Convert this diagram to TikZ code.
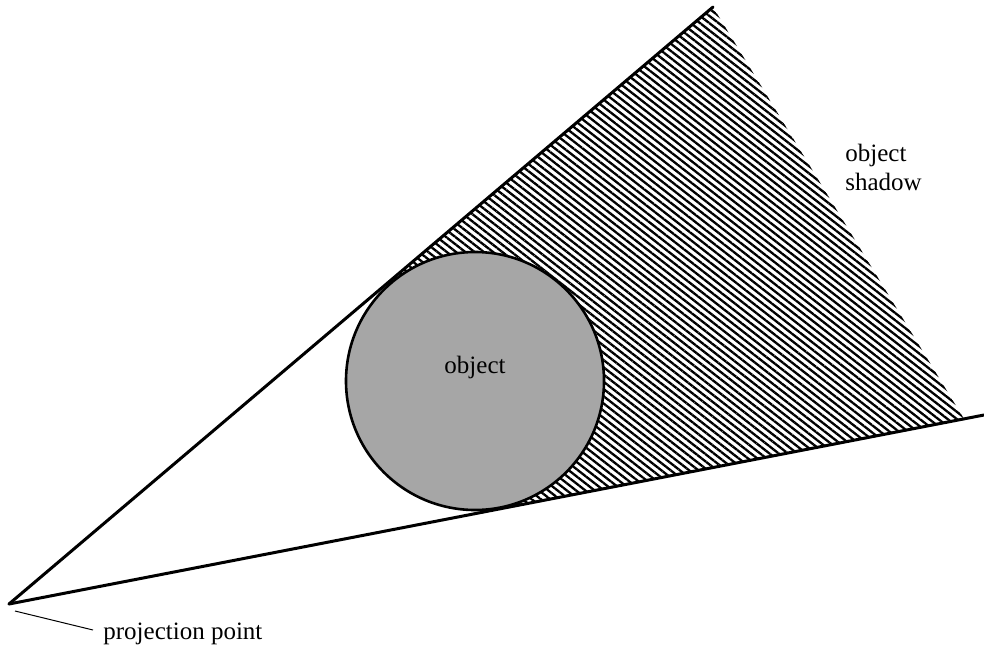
\documentclass[tikz,border=0pt]{standalone}
\usepackage{fontspec}
\setmainfont{Liberation Serif}
\usetikzlibrary{calc,patterns.meta}
\definecolor{objgray}{RGB}{166,166,166}
\tikzset{
  ray/.style={line width=1.5pt, line cap=round},
  objcircle/.style={draw, line width=1.3pt, fill=objgray},
  hatch/.style={pattern={Lines[angle=-38, distance=2.85pt, line width=1.15pt]}, pattern color=black},
  lbl/.style={font=\fontsize{12.5}{14.5}\selectfont, inner sep=0pt},
  leader/.style={line width=0.5pt}
}
\begin{document}
\begin{tikzpicture}[x=0.5pt, y=-0.5pt]
\useasboundingbox (0,0) rectangle (984,648);
\coordinate (A) at (9,604);
\coordinate (P1) at (713,7);
\coordinate (E2) at (984,415);
\coordinate (C) at (475,381);
\coordinate (T1) at ($(A)!(C)!(P1)$);
\coordinate (T2) at ($(A)!(C)!(E2)$);
\coordinate (P2) at ($(A)!0.9795!(E2)$);
% shadow
\fill[hatch] (T1) -- (P1) -- (P2) -- (T2) -- cycle;
% object
\node[objcircle, circle, minimum size=129pt, inner sep=0pt, outer sep=0pt] (obj) at (C) {};
\node[lbl] (objlbl) at (475,367) {object};
% rays
\draw[ray] (A) -- (P1);
\draw[ray] (A) -- (E2);
% labels
\node[lbl, anchor=west, align=left] (shadowlbl) at (845,167) {object\\shadow};
\node[lbl, anchor=base west] (projlbl) at (103,639) {projection point};
\coordinate (L1) at (15,611);
\coordinate (L2) at (93,630);
\draw[leader] (L1) -- (L2);
\end{tikzpicture}
\end{document}
